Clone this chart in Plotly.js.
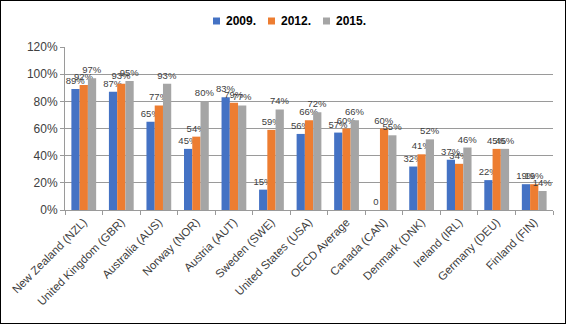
<!DOCTYPE html>
<html>
<head>
<meta charset="utf-8">
<script src="https://cdn.plot.ly/plotly-3.0.1.min.js"></script>
<style>
html,body{margin:0;padding:0;background:#fff;}
#chart{width:567px;height:325px;position:relative;}
#frame{position:absolute;left:0;top:0;width:566px;height:324px;box-sizing:border-box;border:1px solid #000;pointer-events:none;}
</style>
</head>
<body>
<div id="chart"></div>
<div id="frame"></div>
<script>
const categories = ["New Zealand (NZL)","United Kingdom (GBR)","Australia (AUS)","Norway (NOR)","Austria (AUT)","Sweden (SWE)","United States (USA)","OECD Average","Canada (CAN)","Denmark (DNK)","Ireland (IRL)","Germany (DEU)","Finland (FIN)"];
const seriesNames = ["2009.","2012.","2015."];
const v2009 = [89,87,65,45,83,15,56,57,0,32,37,22,19];
const v2012 = [92,93,77,54,79,59,66,60,60,41,34,45,19];
const v2015 = [97,95,93,80,77,74,72,66,55,52,46,45,14];
const colors = ["#4472C4","#ED7D31","#A5A5A5"];
const yTickVals = [0,0.2,0.4,0.6,0.8,1.0,1.2];

const allVals = [v2009,v2012,v2015];
const traces = allVals.map((vals,i)=>({
  type:'bar',
  name:seriesNames[i],
  x:categories,
  y:vals.map(v=>v/100),
  text:vals.map(v=>v===0?'0':v+'%'),
  textposition:'outside',
  textfont:{family:'Liberation Sans, Arial, sans-serif',size:9.5,color:'#404040'},
  constraintext:'none',
  cliponaxis:false,
  marker:{color:colors[i],line:{width:0}},
  hoverinfo:'none'
}));

// legend drawn as squares + text (pixel positions converted to paper coords)
const M = {l:65,r:14,t:47,b:115};
const PW = 567-M.l-M.r, PH = 325-M.t-M.b;
const px2x = p => (p-M.l)/PW;
const py2y = p => (325-M.b-p)/PH;
const legSquareX = [213,268,323];
const legTextX = [224,279,334];
const legY = 21;
const shapes = seriesNames.map((n,i)=>({
  type:'rect',xref:'paper',yref:'paper',
  x0:px2x(legSquareX[i]),x1:px2x(legSquareX[i]+7),
  y0:py2y(legY+3.5),y1:py2y(legY-3.5),
  fillcolor:colors[i],line:{width:0}
}));
const annotations = seriesNames.map((n,i)=>({
  xref:'paper',yref:'paper',x:px2x(legTextX[i]),y:py2y(legY),
  xanchor:'left',yanchor:'middle',showarrow:false,text:n,
  font:{family:'Liberation Sans, Arial, sans-serif',size:12,color:'#000',weight:'bold'}
}));

const layout = {
  width:567,height:325,
  margin:M,
  paper_bgcolor:'#fff',plot_bgcolor:'#fff',
  barmode:'group',bargap:0.34,bargroupgap:0,
  font:{family:'Liberation Sans, Arial, sans-serif',size:11,color:'#404040'},
  showlegend:false,
  shapes:shapes,
  annotations:annotations,
  xaxis:{type:'category',tickangle:-45,tickson:'boundaries',ticks:'outside',ticklen:4,
    tickcolor:'#9a9a9a',showline:true,linecolor:'#9a9a9a',linewidth:1,
    tickfont:{size:11.5,color:'#404040'},automargin:false},
  yaxis:{range:[0,1.2],tickvals:yTickVals,tickformat:'.0%',showgrid:true,gridcolor:'#9a9a9a',gridwidth:1,
    showline:true,linecolor:'#9a9a9a',ticks:'outside',ticklen:4,tickcolor:'#9a9a9a',
    tickfont:{size:12,color:'#404040'},zeroline:false,automargin:false,fixedrange:true}
};
Plotly.newPlot('chart',traces,layout,{staticPlot:true,displayModeBar:false});
</script>
</body>
</html>
